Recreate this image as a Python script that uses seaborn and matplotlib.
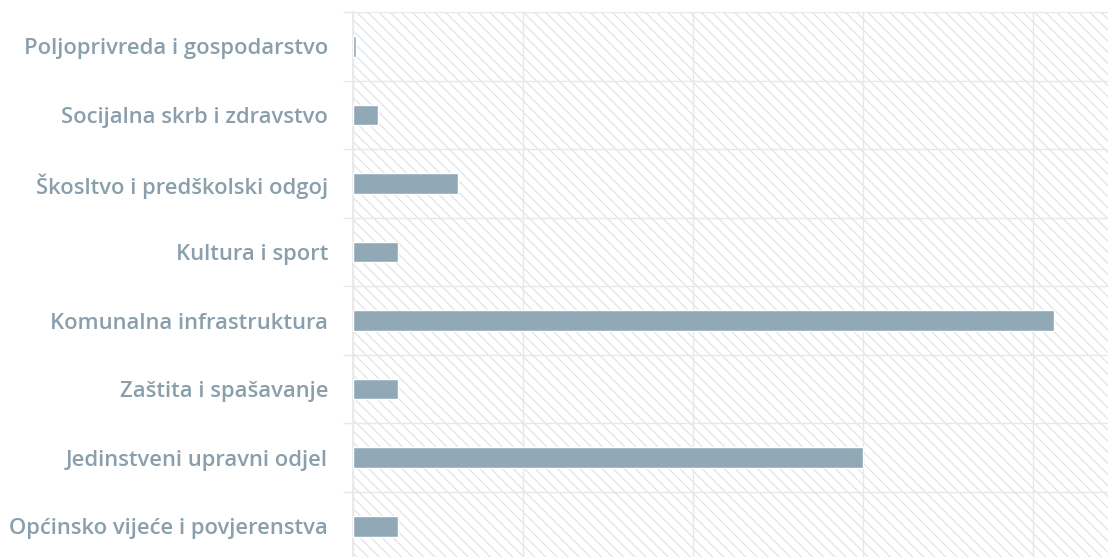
import matplotlib
matplotlib.use("Agg")
import matplotlib.pyplot as plt
import seaborn as sns
import pandas as pd
from matplotlib.patches import Rectangle

categories = [
    "Poljoprivreda i gospodarstvo",
    "Socijalna skrb i zdravstvo",
    "Škosltvo i predškolski odgoj",
    "Kultura i sport",
    "Komunalna infrastruktura",
    "Zaštita i spašavanje",
    "Jedinstveni upravni odjel",
    "Općinsko vijeće i povjerenstva",
]
values = [9000, 74000, 310000, 132000, 2060000, 132000, 1500000, 132000]
x_ticks = [0, 500000, 1000000, 1500000, 2000000]

df = pd.DataFrame({"kategorija": categories, "iznos": values})

sns.set_theme(style="white")
plt.rcParams["font.family"] = ["Open Sans", "DejaVu Sans"]
plt.rcParams["hatch.linewidth"] = 0.8
plt.rcParams["hatch.color"] = "#dde1e4"

fig = plt.figure(figsize=(11.08, 5.57), dpi=100)
ax = fig.add_axes([353 / 1108, (557 - 560.6) / 557, 1 - 353 / 1108, (560.6 - 12) / 557])
ax.set_facecolor("white")

bg = Rectangle((0, 0), 1, 1, transform=ax.transAxes, facecolor="white",
               edgecolor="#dde1e4", hatch="\\\\\\", linewidth=0, zorder=0)
ax.add_patch(bg)

sns.barplot(data=df, x="iznos", y="kategorija", orient="h", color="#91a9b6",
            width=0.3, saturation=1, ax=ax, zorder=3)

ax.set_xlim(0, 2220000)
ax.set_xticks(x_ticks)
ax.set_xticklabels([])
ax.tick_params(axis="x", length=0)
ax.grid(axis="x", color="#e8e8e8", linewidth=1, zorder=1)

# category separators
n = len(categories)
for b in range(n + 1):
    ax.axhline(b - 0.5, color="#e8e8e8", linewidth=1, zorder=1)
ax.set_yticks([b - 0.5 for b in range(n + 1)], minor=True)
ax.tick_params(axis="y", which="minor", length=7, color="#e8e8e8", width=1, left=True)
ax.tick_params(axis="y", which="major", length=0, pad=18, labelsize=15.8,
               labelcolor="#8a9fac")
for lbl in ax.get_yticklabels():
    lbl.set_fontweight("semibold")
ax.set_ylim(n - 0.5, -0.5)

ax.set_xlabel("")
ax.set_ylabel("")
for s in ["top", "right", "bottom"]:
    ax.spines[s].set_visible(False)
ax.spines["left"].set_color("#e8e8e8")

fig.savefig("out.png", dpi=100)
